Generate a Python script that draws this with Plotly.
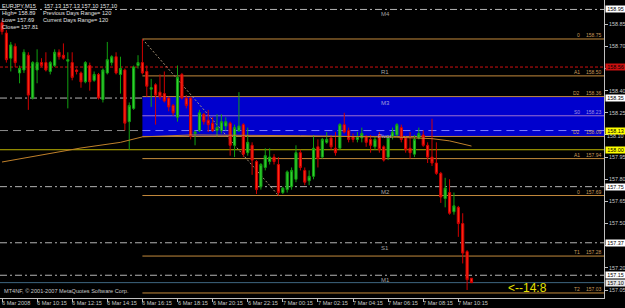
import plotly.graph_objects as go

# ------------------------------------------------------------------ data
bar_index = list(range(108))
open_ = [
    158.86, 158.79, 158.62, 158.70, 158.52, 158.54, 158.64, 158.35, 158.54, 158.59,
    158.59, 158.53, 158.57, 158.66, 158.64, 158.60, 158.59, 158.54, 158.52, 158.46,
    158.57, 158.47, 158.51, 158.34, 158.52, 158.59, 158.63, 158.51, 158.54, 158.19,
    158.28, 158.57, 158.59, 158.53, 158.41, 158.44, 158.39, 158.38, 158.35, 158.30,
    158.22, 158.51, 158.35, 158.35, 158.11, 158.13, 158.24, 158.20, 158.18, 158.13,
    158.13, 158.16, 158.18, 158.03, 158.13, 158.17, 157.98, 158.03, 157.92, 157.75,
    157.88, 157.92, 157.95, 157.90, 157.71, 157.73, 157.75, 157.80, 157.98, 157.86,
    157.79, 157.82, 158.02, 157.95, 158.05, 158.08, 158.01, 158.01, 158.17, 158.13,
    158.09, 158.07, 158.08, 158.09, 158.07, 158.02, 158.10, 158.02, 157.95, 158.09,
    158.10, 158.15, 158.08, 158.01, 157.97, 158.08, 158.10, 158.03, 157.95, 157.91,
    157.84, 157.67, 157.71, 157.58, 157.61, 157.50, 157.31, 157.13]
high = [
    158.88, 158.81, 158.73, 158.72, 158.57, 158.68, 158.66, 158.60, 158.68, 158.62,
    158.66, 158.60, 158.68, 158.68, 158.72, 158.66, 158.66, 158.55, 158.53, 158.60,
    158.59, 158.53, 158.52, 158.55, 158.73, 158.64, 158.66, 158.63, 158.55, 158.32,
    158.57, 158.64, 158.75, 158.57, 158.48, 158.45, 158.51, 158.53, 158.36, 158.31,
    158.57, 158.52, 158.37, 158.36, 158.13, 158.27, 158.25, 158.27, 158.22, 158.24,
    158.24, 158.22, 158.19, 158.17, 158.39, 158.18, 158.15, 158.05, 157.93, 157.91,
    158.01, 158.01, 157.97, 157.95, 157.75, 157.86, 157.88, 158.03, 158.00, 157.88,
    157.86, 158.10, 158.07, 158.08, 158.12, 158.10, 158.12, 158.18, 158.25, 158.15,
    158.11, 158.12, 158.15, 158.10, 158.10, 158.09, 158.12, 158.03, 158.10, 158.15,
    158.18, 158.17, 158.09, 158.12, 158.10, 158.15, 158.13, 158.05, 158.21, 158.05,
    157.85, 157.81, 157.80, 157.71, 157.62, 157.57, 157.32, 157.13]
low = [
    158.78, 158.59, 158.53, 158.56, 158.45, 158.52, 158.27, 158.34, 158.45, 158.56,
    158.53, 158.51, 158.56, 158.61, 158.61, 158.28, 158.47, 158.51, 158.42, 158.45,
    158.40, 158.46, 158.34, 158.32, 158.51, 158.57, 158.51, 158.38, 158.13, 158.00,
    158.27, 158.55, 158.51, 158.36, 158.29, 158.17, 158.34, 158.32, 158.26, 158.23,
    158.19, 158.34, 158.28, 158.07, 158.03, 158.12, 158.17, 158.12, 158.12, 158.09,
    158.11, 158.13, 157.96, 157.95, 158.12, 157.95, 157.96, 157.83, 157.70, 157.73,
    157.86, 157.90, 157.90, 157.69, 157.70, 157.71, 157.73, 157.78, 157.86, 157.76,
    157.76, 157.80, 157.88, 157.94, 158.04, 158.00, 157.96, 158.00, 158.11, 158.05,
    158.05, 158.05, 158.05, 158.02, 157.98, 158.00, 157.98, 157.92, 157.93, 158.07,
    158.09, 158.05, 157.98, 157.94, 157.95, 158.07, 158.02, 157.91, 157.89, 157.83,
    157.64, 157.61, 157.56, 157.56, 157.41, 157.23, 157.05, 157.10]
close = [
    158.80, 158.61, 158.71, 158.59, 158.55, 158.66, 158.37, 158.59, 158.59, 158.57,
    158.54, 158.59, 158.66, 158.63, 158.62, 158.61, 158.49, 158.53, 158.46, 158.59,
    158.46, 158.51, 158.35, 158.54, 158.61, 158.63, 158.52, 158.55, 158.18, 158.30,
    158.56, 158.59, 158.52, 158.43, 158.42, 158.37, 158.36, 158.33, 158.29, 158.25,
    158.49, 158.35, 158.30, 158.09, 158.12, 158.25, 158.19, 158.17, 158.13, 158.15,
    158.19, 158.19, 158.03, 158.15, 158.16, 157.97, 158.05, 157.93, 157.73, 157.90,
    157.96, 157.95, 157.92, 157.71, 157.74, 157.85, 157.86, 157.98, 157.88, 157.78,
    157.82, 158.01, 157.94, 158.07, 158.07, 158.02, 157.98, 158.17, 158.12, 158.07,
    158.07, 158.09, 158.11, 158.05, 158.03, 158.07, 158.00, 157.93, 158.08, 158.12,
    158.17, 158.07, 158.00, 157.98, 158.07, 158.11, 158.03, 157.95, 157.91, 157.84,
    157.68, 157.74, 157.57, 157.62, 157.50, 157.30, 157.12, 157.10]

ma_bars = [0, 9, 18, 27, 32, 43, 68, 90, 98, 102, 105, 107]
ma_vals = [157.917, 157.965, 158.012, 158.05, 158.087, 158.10, 158.095, 158.085, 158.075, 158.06, 158.04, 158.025]

tick_bars = [0, 8, 16, 24, 32, 40, 48, 56, 64, 72, 80, 88, 96, 104]
tick_labels = ["6 Mar 2008", "6 Mar 10:15", "6 Mar 12:15", "6 Mar 14:15", "6 Mar 16:15",
               "6 Mar 18:15", "6 Mar 20:15", "6 Mar 22:15", "7 Mar 00:15", "7 Mar 02:15",
               "7 Mar 04:15", "7 Mar 06:15", "7 Mar 08:15", "7 Mar 10:15"]
# price-scale ticks; labels for 158.55 / 157.35 / 159.00 sit under line-price boxes
price_ticks = [157.05, 157.20, 157.35, 157.50, 157.65, 157.80, 157.95,
               158.10, 158.25, 158.40, 158.55, 158.70, 158.85]
hidden_ticks = [157.35, 158.55]
nudged_tick = 158.10   # partly covered by the pivot box, drawn just below it

pivot_names = ["M4", "R1", "M3", "Pivot", "M2", "S1", "M1"]
pivot_vals = [158.95, 158.56, 158.35, 158.13, 157.75, 157.37, 157.15]

fib_names = ["0", "A1", "D2", "S0", "D2", "A1", "0", "T1", "T2"]
fib_vals = [158.75, 158.50, 158.36, 158.23, 158.09, 157.94, 157.69, 157.28, 157.03]
fib_start_bar = 32
swing_bars = [32, 63]
swing_prices = [158.75, 157.69]

yellow_level = 158.00
bid_price = 157.10

info_left = ["EURJPY,M15", "High= 158.89", "Low= 157.69", "Close= 157.81"]
info_right = ["157.13 157.13 157.10 157.10", "Previous Days Range= 120", "Current Days Range= 120", ""]
timer_text = "<--14:8"
copyright_text = "MT4NF, \u00a9 2001-2007 MetaQuotes Software Corp."

# ------------------------------------------------------------------ layout constants
W, H = 625, 308
ML, MR, MT, MB = 0, 21, 0, 10
PW, PH = W - ML - MR, H - MT - MB
X_MIN, X_MAX = -0.456, 137.2
Y_MIN, Y_MAX = 156.996, 159.014
FONT = "Liberation Sans, Arial, sans-serif"
ORANGE = "#C48A3C"
GREY = "#B4B4B4"

fig = go.Figure()

fig.add_trace(go.Scatter(x=ma_bars, y=ma_vals, mode="lines",
                         line=dict(color="#C0802A", width=1),
                         hoverinfo="skip", showlegend=False))

fig.add_trace(go.Candlestick(
    x=bar_index, open=open_, high=high, low=low, close=close,
    increasing=dict(line=dict(color="#10A010", width=1), fillcolor="#33D033"),
    decreasing=dict(line=dict(color="#D00000", width=1), fillcolor="#FF2A14"),
    whiskerwidth=0, showlegend=False, hoverinfo="skip"))

shapes = []
shapes.append(dict(type="rect", xref="x", yref="y", x0=fib_start_bar, x1=X_MAX,
                   y0=fib_vals[4], y1=fib_vals[2], fillcolor="#0000CD",
                   line=dict(width=0), layer="below"))
for name, v in zip(fib_names, fib_vals):
    col = "#9A70D0" if name == "S0" else ORANGE
    shapes.append(dict(type="line", xref="x", yref="y", x0=fib_start_bar, x1=X_MAX,
                       y0=v, y1=v, line=dict(color=col, width=1), layer="below"))
shapes.append(dict(type="line", xref="paper", yref="y", x0=0, x1=1, y0=yellow_level,
                   y1=yellow_level, line=dict(color="#BDB400", width=1), layer="below"))
shapes.append(dict(type="line", xref="paper", yref="y", x0=0, x1=1, y0=bid_price,
                   y1=bid_price, line=dict(color="#3E6680", width=1), layer="below"))
for name, v in zip(pivot_names, pivot_vals):
    if name == "R1":
        shapes.append(dict(type="line", xref="paper", yref="y", x0=0, x1=1, y0=v, y1=v,
                           line=dict(color="#D01010", width=1, dash="3px,2px"), layer="below"))
    elif name == "Pivot":
        shapes.append(dict(type="line", xref="x", yref="y", x0=X_MIN, x1=fib_start_bar, y0=v, y1=v,
                           line=dict(color="#8C8C8C", width=1, dash="8px,5px"), layer="below"))
        shapes.append(dict(type="line", xref="x", yref="y", x0=fib_start_bar, x1=X_MAX, y0=v, y1=v,
                           line=dict(color="#7C7CFF", width=1, dash="8px,5px"), layer="below"))
    else:
        shapes.append(dict(type="line", xref="paper", yref="y", x0=0, x1=1, y0=v, y1=v,
                           line=dict(color=GREY, width=1, dash="7px,3px,2px,3px"), layer="below"))
shapes.append(dict(type="line", xref="x", yref="y", x0=swing_bars[0], x1=swing_bars[1],
                   y0=swing_prices[0], y1=swing_prices[1],
                   line=dict(color="#A89478", width=1, dash="2px,2px"), layer="below"))

ann = []
small = dict(family=FONT, size=5.6)
for b, t in zip(tick_bars, tick_labels):
    ann.append(dict(x=b, xref="x", y=0, yref="paper", yanchor="top", xanchor="left",
                    yshift=-1, xshift=-1, text=t, showarrow=False, borderpad=0,
                    font=dict(small, color="#C8C8C8")))
# the partly covered 158.10 scale label, placed right under the pivot box
ann.append(dict(x=1, xref="paper", y=nudged_tick, yref="y", xanchor="left", yanchor="middle",
                xshift=2, yshift=-1.5, text=f"{nudged_tick:.2f}", showarrow=False, borderpad=0,
                font=dict(family=FONT, size=5.4, color="#C8C8C8")))
boxes = [(v, "#CC1010" if n == "R1" else ("#FFFF00" if n == "Pivot" else "#FFFFFF"))
         for n, v in zip(pivot_names, pivot_vals)]
boxes += [(yellow_level, "#FFFF00"), (bid_price, "#E6E6E6")]
for v, bg in boxes:
    ann.append(dict(x=1, xref="paper", y=v, yref="y", xanchor="left", yanchor="middle",
                    xshift=1, text=f"{v:.2f}", showarrow=False, bgcolor=bg, borderpad=0,
                    width=19, height=6, font=dict(family=FONT, size=5.4, color="#000000")))
for n, v in zip(pivot_names, pivot_vals):
    col = "#A0A0D8" if n in ("Pivot", "M3") else "#A0A0A0"
    ann.append(dict(x=385 / PW, xref="paper", y=v, yref="y", xanchor="center", yanchor="top",
                    yshift=-1, text=n, showarrow=False, borderpad=0,
                    font=dict(family=FONT, size=6, color=col)))
for n, v in zip(fib_names, fib_vals):
    col = "#A090E0" if n == "S0" else "#C89A5A"
    ann.append(dict(x=581 / PW, xref="paper", y=v, yref="y", xanchor="right", yanchor="bottom",
                    text=n, showarrow=False, borderpad=0, font=dict(family=FONT, size=5, color=col)))
    ann.append(dict(x=603 / PW, xref="paper", y=v, yref="y", xanchor="right", yanchor="bottom",
                    text=f"{v:.2f}", showarrow=False, borderpad=0,
                    font=dict(family=FONT, size=5, color=col)))
for k, (a, b) in enumerate(zip(info_left, info_right)):
    yy = 1 - (2 + 7 * k) / PH
    ann.append(dict(x=1 / PW, xref="paper", y=yy, yref="paper", xanchor="left", yanchor="top",
                    text=a, showarrow=False, borderpad=0, font=dict(small, color="#E0E0E0")))
    if b:
        ann.append(dict(x=(43 if k == 0 else 42) / PW, xref="paper", y=yy, yref="paper",
                        xanchor="left", yanchor="top", text=b, showarrow=False, borderpad=0,
                        font=dict(small, color="#E0E0E0")))
ann.append(dict(x=3 / PW, xref="paper", y=1 - 291 / PH, yref="paper", xanchor="left",
                yanchor="middle", text=copyright_text, showarrow=False, borderpad=0,
                font=dict(small, color="#C8C8C8")))
ann.append(dict(x=507 / PW, xref="paper", y=1 - 288 / PH, yref="paper", xanchor="left",
                yanchor="middle", text=timer_text, showarrow=False, borderpad=0,
                font=dict(family=FONT, size=12, color="#E6E000")))

tick_text = ["" if (p in hidden_ticks or p == nudged_tick) else f"{p:.2f}" for p in price_ticks]

fig.update_layout(
    width=W, height=H, autosize=False,
    margin=dict(l=ML, r=MR, t=MT, b=MB, pad=0),
    paper_bgcolor="#000000", plot_bgcolor="#000000",
    shapes=shapes, annotations=ann, showlegend=False,
    xaxis=dict(range=[X_MIN, X_MAX], showgrid=False, zeroline=False,
               rangeslider=dict(visible=False), showline=True, linecolor="#C0C0C0",
               linewidth=1, tickvals=tick_bars, ticktext=[""] * len(tick_bars),
               ticks="outside", ticklen=3, tickcolor="#C0C0C0", showticklabels=False,
               fixedrange=True),
    yaxis=dict(range=[Y_MIN, Y_MAX], side="right", showgrid=False, zeroline=False,
               showline=True, linecolor="#C0C0C0", linewidth=1,
               tickvals=price_ticks, ticktext=tick_text,
               ticks="outside", ticklen=3, tickcolor="#C0C0C0",
               tickfont=dict(family=FONT, size=5.4, color="#C8C8C8"), fixedrange=True),
)

fig.write_html("out.html", config={"displayModeBar": False})
